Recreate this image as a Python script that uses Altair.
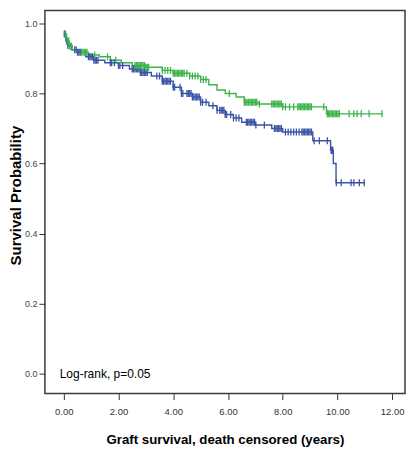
import altair as alt
import numpy as np
import pandas as pd

# ---- data (years, survival probability) ----
green_times = [0.0, 0.1, 0.2, 0.3, 0.6, 0.9, 1.3, 1.7, 2.1, 2.5, 3.0, 3.6, 4.0, 4.6,
               5.0, 5.3, 5.6, 5.9, 6.3, 6.6, 7.1, 8.0, 9.6, 11.65]
green_surv = [0.97, 0.95, 0.935, 0.925, 0.918, 0.91, 0.905, 0.895, 0.888, 0.88, 0.875,
              0.866, 0.858, 0.85, 0.84, 0.825, 0.81, 0.80, 0.79, 0.775, 0.77, 0.762,
              0.742, 0.742]

blue_times = [0.0, 0.08, 0.15, 0.3, 0.5, 0.8, 1.1, 1.5, 2.0, 2.4, 2.8, 3.2, 3.6, 4.0,
              4.3, 4.7, 5.0, 5.3, 5.6, 5.9, 6.2, 6.5, 7.0, 7.6, 8.0, 9.1, 9.75, 9.85,
              9.95, 11.0]
blue_surv = [0.97, 0.95, 0.937, 0.925, 0.918, 0.905, 0.895, 0.888, 0.88, 0.87, 0.86,
             0.85, 0.835, 0.818, 0.80, 0.79, 0.775, 0.765, 0.752, 0.74, 0.73, 0.718,
             0.71, 0.70, 0.69, 0.665, 0.638, 0.60, 0.545, 0.545]

green_censor = [0.05, 0.12, 0.15, 0.18, 0.22, 0.25, 0.28, 0.65, 0.7, 0.75, 0.8, 0.85,
                1.13, 1.6, 1.9, 2.6, 2.65, 2.7, 2.75, 2.8, 2.85, 2.9, 2.95, 3.0, 3.05,
                3.1, 3.6, 3.7, 3.8, 3.9, 4.0, 4.05, 4.1, 4.15, 4.2, 4.25, 4.3, 4.35,
                4.4, 4.5, 4.6, 4.7, 4.8, 4.9, 5.0, 5.1, 5.2, 6.05, 6.6, 6.65, 6.7,
                6.75, 6.8, 6.85, 6.9, 6.95, 7.0, 7.05, 7.15, 7.6, 7.65, 7.7, 7.75, 7.8,
                7.85, 7.9, 7.95, 8.0, 8.1, 8.25, 8.4, 8.55, 8.6, 8.65, 8.7, 8.75, 8.8,
                8.85, 8.9, 8.95, 9.0, 9.05, 9.5, 9.63, 9.67, 9.72, 9.77, 9.82, 9.87,
                9.92, 9.97, 10.02, 10.07, 10.43, 10.6, 10.72, 10.87, 11.16, 11.63]
blue_censor = [0.02, 0.06, 0.1, 0.15, 0.4, 0.45, 0.5, 0.55, 0.6, 0.9, 0.95, 1.0, 1.05,
               1.1, 1.15, 1.2, 1.25, 1.7, 1.75, 1.85, 2.0, 2.05, 2.15, 2.5, 2.55, 2.6,
               2.65, 2.7, 2.75, 2.8, 2.85, 2.9, 2.95, 3.0, 3.05, 3.4, 3.5, 3.6, 3.65,
               3.7, 3.75, 3.8, 3.85, 3.9, 4.0, 4.05, 4.25, 4.3, 4.35, 4.5, 4.55, 4.6,
               4.65, 4.7, 4.75, 4.8, 4.85, 4.9, 4.95, 5.0, 5.07, 5.2, 5.45, 5.6, 5.7,
               5.75, 5.8, 5.85, 5.9, 5.95, 6.1, 6.2, 6.3, 6.4, 6.67, 6.72, 6.77, 6.82,
               6.87, 6.92, 6.97, 7.02, 7.33, 7.7, 7.75, 7.8, 7.85, 7.9, 7.95, 8.1, 8.2,
               8.3, 8.4, 8.5, 8.6, 8.7, 8.75, 8.8, 8.85, 8.9, 8.95, 9.0, 9.05, 9.15,
               9.34, 9.63, 9.77, 9.79, 9.81, 9.83, 9.96, 10.14, 10.5, 10.6, 10.8, 10.98]

groups = ["blue", "green"]
colors = ["#3a54a6", "#3cb44a"]
x_ticks = [0, 2, 4, 6, 8, 10, 12]
y_ticks = [0.0, 0.2, 0.4, 0.6, 0.8, 1.0]
annotation = "Log-rank, p=0.05"

FONT = "Liberation Sans, Arial, sans-serif"


def curve(times, surv, g):
    return pd.DataFrame({"t": times, "s": surv, "g": g})


def censor(ctimes, times, surv, g):
    idx = np.searchsorted(np.array(times), np.array(ctimes), side="right") - 1
    return pd.DataFrame({"t": ctimes, "s": np.array(surv)[idx], "g": g})


curves = pd.concat([curve(blue_times, blue_surv, "blue"),
                    curve(green_times, green_surv, "green")])
marks = pd.concat([censor(blue_censor, blue_times, blue_surv, "blue"),
                   censor(green_censor, green_times, green_surv, "green")])

xscale = alt.Scale(domain=[-0.69, 12.47], nice=False, zero=False)
yscale = alt.Scale(domain=[-0.057, 1.037], nice=False, zero=False)
cscale = alt.Scale(domain=groups, range=colors)

xenc = alt.X("t:Q", scale=xscale,
             axis=alt.Axis(values=x_ticks, format=".2f",
                           title="Graft survival, death censored (years)",
                           grid=False, domain=False, tickSize=6, tickColor="#333",
                           labelFont=FONT, labelFontSize=9.5, labelColor="#333",
                           labelPadding=7,
                           titleFont=FONT, titleFontSize=13.3, titleFontWeight="bold",
                           titleColor="#000", titleY=46, titleBaseline="middle"))
yenc = alt.Y("s:Q", scale=yscale,
             axis=alt.Axis(values=y_ticks, format=".1f",
                           title="Survival Probability",
                           grid=False, domain=False, tickSize=6, tickColor="#333",
                           labelFont=FONT, labelFontSize=9, labelColor="#444",
                           labelPadding=2,
                           titleFont=FONT, titleFontSize=15, titleFontWeight="bold",
                           titleColor="#000", titleX=-29, titleY=185,
                           titleAngle=-90, titleAlign="center",
                           titleBaseline="middle"))

lines = alt.Chart(curves).mark_line(interpolate="step-after", strokeWidth=1.4).encode(
    x=xenc, y=yenc,
    color=alt.Color("g:N", scale=cscale, legend=None),
    detail="g:N",
)

ticks = alt.Chart(marks).mark_point(shape="M0,-1L0,1", size=49, strokeWidth=1.3,
                                    filled=False, opacity=1).encode(
    x="t:Q", y="s:Q",
    color=alt.Color("g:N", scale=cscale, legend=None),
)

label = alt.Chart(pd.DataFrame({"t": [-0.15], "s": [0.0], "txt": [annotation]})).mark_text(
    align="left", baseline="middle", font=FONT, fontSize=12, color="#000"
).encode(x="t:Q", y="s:Q", text="txt:N")

chart = alt.layer(lines, ticks, label).properties(
    width=361, height=384,
    autosize=alt.AutoSizeParams(type="none"),
    padding={"left": 37, "top": 2, "right": 2, "bottom": 55},
).configure_view(stroke="#3a3a3a", strokeWidth=1.5)

chart.save("out.html", embed_options={"renderer": "svg", "actions": False})
